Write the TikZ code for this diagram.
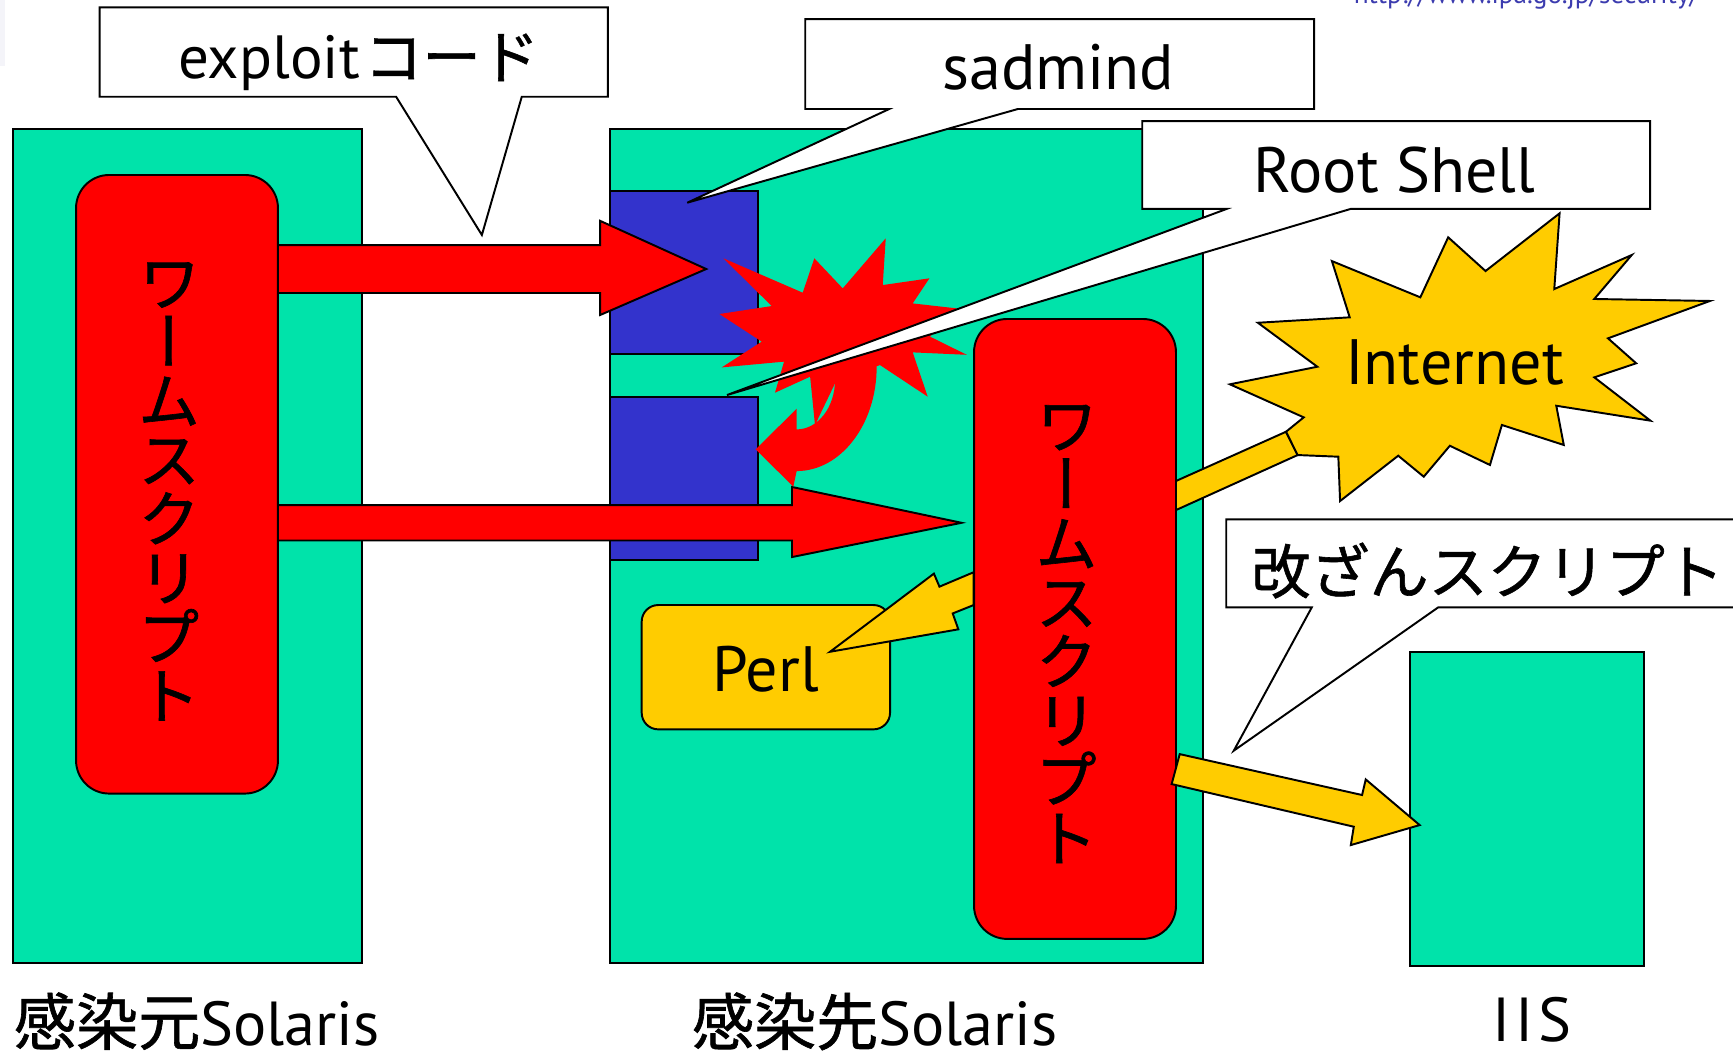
\documentclass[tikz,border=0pt]{standalone}
\usepackage{fontspec}
\setmainfont{PT Sans}
\newfontfamily\cjk[FakeBold=1]{Noto Sans CJK JP}
\newfontfamily\cjkv[RawFeature=+vert,FakeBold=1]{Noto Sans CJK JP}
\definecolor{hostgreen}{RGB}{0,227,170}
\definecolor{portblue}{RGB}{51,51,204}
\definecolor{wormred}{RGB}{255,0,0}
\definecolor{flowyellow}{RGB}{255,204,0}
\definecolor{urlblue}{RGB}{60,60,175}
\definecolor{edgegray}{RGB}{244,244,249}

\begin{document}
\begin{tikzpicture}[x=0.1mm,y=-0.1mm,line width=0.5pt,line join=miter,
  host/.style={draw=black,fill=hostgreen},
  port/.style={draw=black,fill=portblue},
  wormbox/.style={draw=black,fill=wormred,rounded corners=3mm},
  redflow/.style={draw=black,fill=wormred},
  yellowflow/.style={draw=black,fill=flowyellow},
  callout/.style={draw=black,fill=white},
  lbl/.style={inner sep=0pt,anchor=base,font=\fontsize{16.5pt}{19pt}\selectfont},
  sublbl/.style={inner sep=0pt,anchor=base,font=\fontsize{16pt}{19pt}\selectfont},
  vtext/.style={inner sep=0pt,anchor=north,align=center,
    font=\cjkv\fontsize{16.2pt}{15.2pt}\selectfont}]
\useasboundingbox (0,0) rectangle (1568,956);
\fill[white] (0,0) rectangle (1568,956);
\fill[edgegray] (0,0) rectangle (4.5,60);

% web address at the top edge
\node[inner sep=0pt,anchor=base west,text=urlblue,font=\fontsize{7pt}{8pt}\selectfont]
  (url) at (1224,3) {http://www.ipa.go.jp/security/};

% hosts
\draw[host] (12,116.7) rectangle (327.2,871.3);
\draw[host] (552,116.7) rectangle (1088.8,871.3);
\draw[host] (1276.1,589.6) rectangle (1487.4,874.3);

% sadmind ports
\draw[port] (552,173) rectangle (686,320);
\draw[port] (552,359) rectangle (686,507);

% worm transfer arrows
\draw[redflow] (251.5,221.7) -- (543,221.7) -- (543,199.8) -- (639,243.4)
  -- (543,285) -- (543,265.1) -- (251.5,265.1) -- cycle;
\draw[redflow] (251.5,457) -- (716.6,457) -- (716.6,440.6) -- (870,473)
  -- (716.6,504) -- (716.6,489) -- (251.5,489) -- cycle;

% source worm script
\draw[wormbox] (68.8,158.3) rectangle (251.5,718);

% curved arrow back into the port
\fill[wormred] (683.7,406.6) -- (720.8,369.8) -- (720.8,388.5)
  .. controls (740,388.5) and (755.5,368.5) .. (755.5,343.8) -- (755.5,300)
  -- (793.2,300) -- (793.2,331.8)
  .. controls (793.2,383.9) and (760.8,426.2) .. (720.8,426.2)
  -- (717.8,440.3) -- cycle;

% burst at the overflowed port
\fill[wormred] (654.5,233.7) -- (726.3,264.8) -- (736.8,233.7) -- (762.5,260.9)
  -- (801.4,215.6) -- (798.7,257.9) -- (840.9,251.8) -- (825.8,274.5)
  -- (865.6,279) -- (841.5,304.6) -- (874.7,321) -- (825.8,318.8)
  -- (839.4,358.9) -- (796.2,330.3) -- (757,343.8) -- (737.4,384.5)
  -- (733,340.8) -- (701.2,355.3) -- (709.4,327.2) -- (653,332.4)
  -- (689.2,309.1) -- (650.9,284.1) -- (698.2,276.9) -- cycle;

% Perl
\draw[yellowflow,rounded corners=1.5mm] (580.6,547.4) rectangle (805.3,659.9);
\node[lbl] (perl) at (692.5,625.8) {Perl};
\draw[yellowflow] (881,517.7) -- (850,530.8) -- (845,519) -- (751,589.7)
  -- (867.1,569.4) -- (862,555) -- (881,547.4) -- cycle;

% link to the Internet
\draw[yellowflow] (1064,435.2) -- (1163.6,390.6) -- (1174.1,411.7) -- (1064,461.5) -- cycle;

% target worm script
\draw[wormbox] (881.3,288.6) rectangle (1064,849.5);

% defacement arrow to IIS
\draw[yellowflow] (1067.4,682.3) -- (1232.4,719.3) -- (1235.7,705.2) -- (1284.5,746.5)
  -- (1222.2,764.6) -- (1224.9,748) -- (1060.1,709.4) -- cycle;

% Internet
\draw[yellowflow] (1205.1,236.2) -- (1285.1,269.0) -- (1310.3,214.7) -- (1344.1,245.2)
  -- (1411.1,193.0) -- (1406.3,261.5) -- (1476.4,230.7) -- (1442.5,270.5)
  -- (1547.1,272.3) -- (1454.9,306.1) -- (1480.4,328.7) -- (1442.5,341.4)
  -- (1493.3,380.6) -- (1408.1,367.1) -- (1414.9,402.6) -- (1358.9,384.5)
  -- (1348.1,420.7) -- (1311.8,403.3) -- (1288.2,431.3) -- (1265.1,412.3)
  -- (1212.5,453.3) -- (1210.9,413.2) -- (1174.1,411.7) -- (1163.6,390.6)
  -- (1179.6,377.6) -- (1112.8,347.7) -- (1191.9,331.8) -- (1138.1,292.0)
  -- (1221.2,287.1) -- cycle;
\node[lbl] (inet) at (1316,348.3) {Internet};

% callouts
\draw[callout] (90.1,6.6) -- (550,6.6) -- (550,87.5) -- (472.1,87.5) -- (436,212.6)
  -- (358.4,87.5) -- (90.1,87.5) -- cycle;
\draw[callout] (728.6,17.2) -- (1189,17.2) -- (1189,98.6) -- (921,98.6) -- (621.8,183.4)
  -- (804.6,98.6) -- (728.6,98.6) -- cycle;
\draw[callout] (1033.5,109.5) -- (1493,109.5) -- (1493,189) -- (1222.1,189) -- (657.8,357.4)
  -- (1109.9,189) -- (1033.5,189) -- cycle;
\draw[callout] (1109.5,469.9) -- (1620,469.9) -- (1620,549.5) -- (1301.3,549.5) -- (1116.3,679.2)
  -- (1186.9,549.5) -- (1109.5,549.5) -- cycle;

\node[lbl,font=\fontsize{15.7pt}{19pt}\selectfont] (exploit) at (324.5,71)
  {exploit\kern1.2pt{\cjk\fontsize{15pt}{19pt}\selectfont コード}};
\node[lbl] (sadmind) at (957.5,81) {sadmind};
\node[lbl] (rootshell) at (1261.5,174) {Root Shell};
\node[lbl,font=\cjk\fontsize{15.2pt}{18pt}\selectfont] (kaizan) at (1346,537) {改ざんスクリプト};

% worm script labels
\node[vtext] (wormsrc) at (153,236.5) {ワ\\ー\\ム\\ス\\ク\\リ\\プ\\ト};
\node[vtext] (wormdst) at (965,365.5) {ワ\\ー\\ム\\ス\\ク\\リ\\プ\\ト};

% host names
\node[sublbl] (srchost) at (178,945.5) {{\cjk 感染元}Solaris};
\node[sublbl] (dsthost) at (791.5,945.5) {{\cjk 感染先}Solaris};
\node[sublbl] (iis) at (1386,942) {I\kern1.3pt I\kern1.3pt S};
\end{tikzpicture}
\end{document}
